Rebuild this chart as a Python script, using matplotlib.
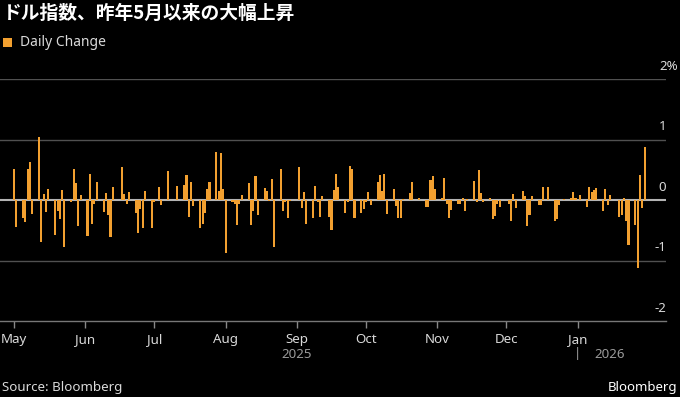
import matplotlib
matplotlib.use("Agg")
import matplotlib.pyplot as plt
import matplotlib.dates as mdates
import matplotlib.transforms as mtransforms
from matplotlib.patches import Rectangle
import pandas as pd

plt.rcParams["font.family"] = ["Noto Sans", "Noto Sans CJK JP", "DejaVu Sans"]

TITLE = "ドル指数、昨年5月以来の大幅上昇"
SERIES_NAME = "Daily Change"
START, END = "2025-05-01", "2026-01-30"

# daily % change of the dollar index, one value per weekday (Thu 1 May 2025 -> Fri 30 Jan 2026)
daily_change = [
    0.52, -0.44,
    -0.30, -0.36, 0.52, 0.62, -0.23,      # May 5
    1.04, -0.70, 0.10, -0.20, 0.18,       # May 12
    -0.58, -0.18, -0.31, 0.17, -0.77,     # May 19
    -0.04, 0.51, 0.28, -0.43, 0.08,       # May 26
    -0.59, 0.43, -0.40, -0.06, 0.29,      # Jun 2
    -0.20, 0.11, -0.25, -0.61, 0.21,      # Jun 9
    0.00, 0.54, 0.10, -0.06, 0.13,        # Jun 16
    -0.22, -0.55, -0.15, -0.47, 0.15,     # Jun 23
    -0.47, -0.04, 0.00, 0.22, -0.09,      # Jun 30
    0.48, 0.00, 0.00, 0.00, 0.23,         # Jul 7
    0.25, 0.41, -0.28, 0.29, -0.10,       # Jul 14
    -0.47, -0.39, -0.22, 0.18, 0.29,      # Jul 21
    0.79, 0.15, 0.77, 0.19, -0.87,        # Jul 28
    -0.03, -0.07, -0.42, -0.06, 0.09,     # Aug 4
    0.28, -0.41, -0.18, 0.40, -0.25,      # Aug 11
    0.20, 0.15, -0.01, 0.35, -0.77,       # Aug 18
    0.51, -0.18, -0.04, -0.30, -0.02,     # Aug 25
    0.00, 0.54, -0.13, 0.13, -0.40,       # Sep 1
    -0.30, 0.23, -0.03, -0.28, 0.07,      # Sep 8
    -0.28, -0.50, 0.17, 0.43, 0.22,       # Sep 15
    -0.21, -0.03, 0.56, 0.52, -0.29,      # Sep 22
    -0.22, -0.15, -0.04, 0.13, -0.08,     # Sep 29
    0.30, 0.42, 0.15, 0.43, -0.23,        # Oct 6
    0.19, -0.10, -0.29, -0.29, 0.02,      # Oct 13
    0.12, 0.30, 0.00, 0.00, 0.03,         # Oct 20
    -0.12, -0.12, 0.33, 0.39, 0.19,       # Oct 27
    0.04, 0.37, -0.07, -0.30, -0.17,      # Nov 3
    -0.06, -0.07, 0.03, -0.18, 0.02,      # Nov 10
    0.31, -0.04, 0.50, 0.12, -0.03,       # Nov 17
    0.03, -0.31, -0.26, -0.06, -0.12,     # Nov 24
    0.00, -0.06, -0.34, 0.10, -0.14,      # Dec 1
    0.15, 0.06, -0.43, -0.25, 0.07,       # Dec 8
    -0.09, -0.09, 0.21, 0.00, 0.22,       # Dec 15
    -0.34, -0.32, -0.09, 0.00, 0.02,      # Dec 22
    0.03, 0.14, 0.03, 0.00, 0.08,         # Dec 29
    -0.11, 0.21, 0.13, 0.17, 0.20,        # Jan 5
    -0.18, 0.18, -0.08, 0.08, 0.00,       # Jan 12
    -0.28, -0.24, 0.03, -0.34, -0.74,     # Jan 19
    -0.42, -1.12, 0.41, -0.13, 0.88,      # Jan 26
]

month_ticks = ["2025-05-01", "2025-06-01", "2025-07-01", "2025-08-01", "2025-09-01",
               "2025-10-01", "2025-11-01", "2025-12-01", "2026-01-01"]
month_labels = ["May", "Jun", "Jul", "Aug", "Sep", "Oct", "Nov", "Dec", "Jan"]
year_labels = [("2025-09-01", "2025"), ("2026-01-01", "2026")]
y_ticks = [2, 1, 0, -1, -2]
y_labels = ["2%", "1", "0", "-1", "-2"]

ORANGE = "#f2a030"
GRID = "#505050"
TEXT = "#d9d9d9"
FS = 9.6

dates = pd.bdate_range(START, END)
assert len(dates) == len(daily_change), (len(dates), len(daily_change))
x = mdates.date2num(dates.to_pydatetime())

W, H = 680, 397
fig = plt.figure(figsize=(W / 100, H / 100), dpi=100, facecolor="black")
ax = fig.add_axes([0, (H - 321) / H, 666 / W, 242 / H], facecolor="black")

for y in (2, 1, -1):
    ax.axhline(y, color=GRID, lw=1.0, zorder=1)
ax.axhline(0, color="#b4b4b4", lw=1.5, zorder=1)
ax.bar(x, daily_change, width=0.9, color=ORANGE, linewidth=0, zorder=2)

x0 = mdates.date2num(pd.Timestamp(START))
ax.set_xlim(x0 - 6.0, x0 + 283.3)
ax.set_ylim(-2, 2)

for s in ("top", "left", "right"):
    ax.spines[s].set_visible(False)
ax.spines["bottom"].set_color("#777777")
ax.spines["bottom"].set_linewidth(1.0)

ax.set_xticks(mdates.date2num(pd.to_datetime(month_ticks).to_pydatetime()))
ax.set_xticklabels(month_labels)
ax.tick_params(axis="x", colors="#888888", length=5, width=1, pad=3.5,
               labelsize=FS, labelcolor=TEXT)
ax.set_yticks([])

# right-hand value labels sitting just above each gridline
for y, lab in zip(y_ticks, y_labels):
    xpos = 678 / 666 if lab.endswith("%") else 1.0
    ax.text(xpos, y + 0.1, lab, transform=ax.get_yaxis_transform(), ha="right",
            va="bottom", fontsize=FS, color=TEXT, clip_on=False)

trans = mtransforms.blended_transform_factory(ax.transData, ax.transAxes)
yr_y = (321 - 354) / 242
d25 = mdates.date2num(pd.Timestamp(year_labels[0][0]))
ax.text(d25, yr_y, year_labels[0][1], transform=trans, ha="center", va="center",
        fontsize=FS, color="#9a9a9a")
d26 = mdates.date2num(pd.Timestamp(year_labels[1][0]))
ax.text(d26, yr_y, "|", transform=trans, ha="center", va="center",
        fontsize=FS, color="#9a9a9a")
ax.text(d26 + 7.3, yr_y, year_labels[1][1], transform=trans, ha="left", va="center",
        fontsize=FS, color="#9a9a9a")

fig.text(3 / W, 1 - 13 / H, TITLE, fontsize=13.5, fontweight="bold", color="white",
         va="center", ha="left", family=["Noto Sans CJK JP", "DejaVu Sans"])
fig.patches.append(Rectangle((3 / W, 1 - 47 / H), 9 / W, 9 / H, transform=fig.transFigure,
                             facecolor=ORANGE, edgecolor="none"))
fig.text(20 / W, 1 - 43 / H, SERIES_NAME, fontsize=10, color=TEXT, va="center", ha="left")
fig.text(2 / W, 1 - 387 / H, "Source: Bloomberg", fontsize=FS, color=TEXT,
         va="center", ha="left")
fig.text(677 / W, 1 - 387 / H, "Bloomberg", fontsize=9.5, fontweight="bold",
         color="white", va="center", ha="right")

fig.savefig("out.png", dpi=100, facecolor="black")
